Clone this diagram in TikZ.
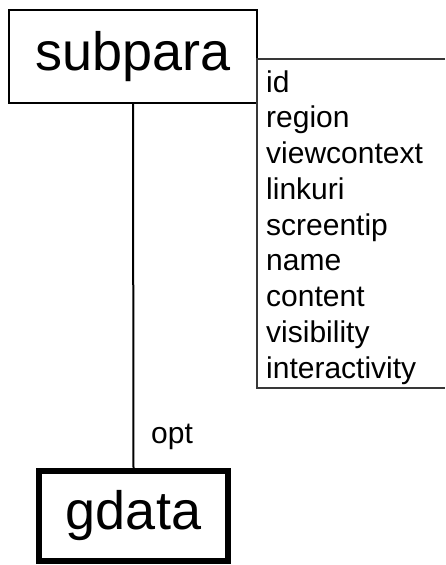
\documentclass[tikz,border=0pt]{standalone}
\usepackage{fontspec}
\setmainfont{Liberation Sans}
\begin{document}
\begin{tikzpicture}[x=1pt,y=1pt,
  bigbox/.style={draw=black, minimum width=248pt, minimum height=93pt, inner sep=0pt, font=\fontsize{54}{60}\selectfont},
  attr/.style={anchor=base west, inner sep=0pt, font=\fontsize{30}{36}\selectfont},
  frame/.style={draw=black!78, line width=1.5pt},
  link/.style={draw=black, line width=2pt}]
\useasboundingbox (0,0) rectangle (445,-565);
\node[bigbox, line width=2pt, minimum width=248pt, minimum height=93pt] (subpara) at (133,-56.5) {subpara};
\node[bigbox, line width=6pt, minimum width=189pt, minimum height=90pt] (gdata) at (133.5,-516) {gdata};
\draw[frame] (445,-59) -- (257,-59) -- (257,-388) -- (445,-388);
\foreach \t [count=\i from 0] in {id,region,viewcontext,linkuri,screentip,name,content,visibility,interactivity}
  \node[attr] (a\i) at (266,-92-35.75*\i) {\t};
\draw[link] (subpara.south) -- (gdata.north);
\node[attr] (opt) at (151,-443) {opt};
\end{tikzpicture}
\end{document}
